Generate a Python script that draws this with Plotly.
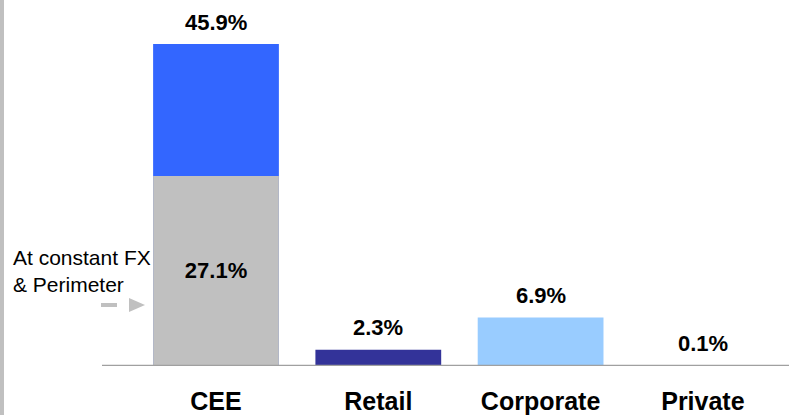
import plotly.graph_objects as go

# Growth by division (%)
categories = ["CEE", "Retail", "Corporate", "Private"]
growth = [45.9, 2.3, 6.9, 0.1]
cee_constant_fx = 27.1  # CEE growth at constant FX & perimeter

bar_colors = ["#3366FF", "#333399", "#99CCFF", "#6699CC"]
gray = "#C0C0C0"
font_family = "Arial, Liberation Sans, sans-serif"

W, H = 789, 415
ml, mr, mt, mb = 102, 0, 0, 49
pw, ph = W - ml - mr, H - mt - mb


def px_x(px):
    return (px - ml) / pw


def px_y(py):
    return (H - mb - py) / ph


fig = go.Figure()

# total growth bars
fig.add_trace(go.Bar(
    x=categories, y=growth,
    marker=dict(color=bar_colors, line=dict(width=0)),
    hoverinfo="skip",
))

# constant FX & perimeter portion of CEE, overlaid on the total
fig.add_trace(go.Bar(
    x=[categories[0]], y=[cee_constant_fx],
    marker=dict(color=gray, line=dict(width=0)),
    text=[f"{cee_constant_fx:.1f}%"],
    textposition="inside", insidetextanchor="middle",
    textfont=dict(family=font_family, size=22, color="black", weight="bold"),
    hoverinfo="skip",
))

annotations = []
for cat, val in zip(categories, growth):
    annotations.append(dict(
        x=cat, y=val, xref="x", yref="y",
        text=f"<b>{val:.1f}%</b>", showarrow=False,
        yanchor="middle", yshift=22,
        font=dict(family=font_family, size=22, color="black"),
    ))

annotations.append(dict(
    x=px_x(11), y=px_y(270.5), xref="paper", yref="paper",
    text="At constant FX<br>& Perimeter", showarrow=False,
    xanchor="left", yanchor="middle", align="left",
    font=dict(family=font_family, size=21, color="black"),
))

shapes = [
    # baseline
    dict(type="line", xref="paper", yref="y", x0=0, x1=1, y0=0, y1=0,
         line=dict(color="#A0A0A0", width=2.5)),
    # left border strip
    dict(type="rect", xref="paper", yref="paper",
         x0=px_x(0), x1=px_x(4), y0=px_y(H), y1=px_y(0),
         fillcolor=gray, line=dict(width=0)),
    # pointer: dash and triangle
    dict(type="line", xref="paper", yref="paper",
         x0=px_x(101), x1=px_x(117), y0=px_y(305), y1=px_y(305),
         line=dict(color=gray, width=4)),
    dict(type="path", xref="paper", yref="paper",
         path=f"M {px_x(129)},{px_y(298)} L {px_x(145)},{px_y(305)} L {px_x(129)},{px_y(312)} Z",
         fillcolor=gray, line=dict(width=0)),
]

spacing = 162.3
center0 = 216
fig.update_layout(
    width=W, height=H,
    margin=dict(l=ml, r=mr, t=mt, b=mb),
    paper_bgcolor="white", plot_bgcolor="white",
    barmode="overlay", bargap=0.225,
    showlegend=False,
    xaxis=dict(
        range=[(ml - center0) / spacing, (W - mr - center0) / spacing],
        showgrid=False, showline=False, zeroline=False, ticks="",
        tickfont=dict(family=font_family, size=25, color="black", weight="bold"),
        ticklabelstandoff=18, automargin=False,
    ),
    yaxis=dict(range=[0, 366 / (322 / 45.9)], visible=False, automargin=False),
    annotations=annotations,
    shapes=shapes,
)

fig.write_html("out.html")
